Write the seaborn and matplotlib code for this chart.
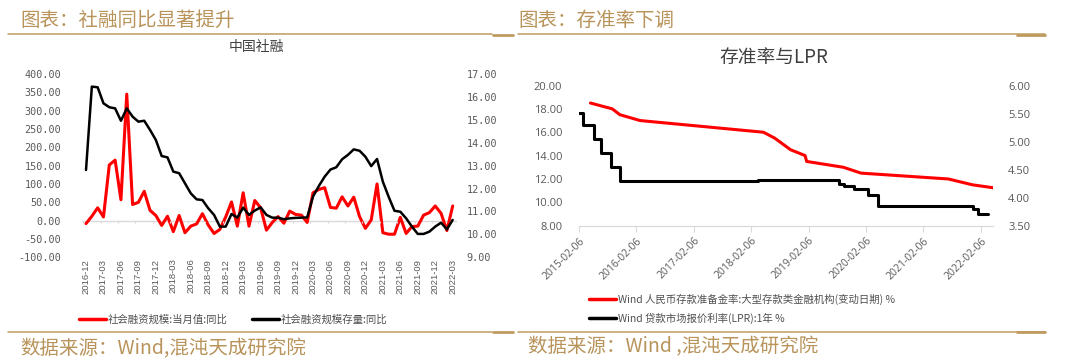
import numpy as np
import pandas as pd
import matplotlib
matplotlib.use("Agg")
import matplotlib.pyplot as plt
import matplotlib.dates as mdates
from matplotlib.lines import Line2D
from matplotlib.ticker import FormatStrFormatter
import seaborn as sns

# =========================
# data: 社融 (monthly, 2016-12 .. 2022-03)
# =========================
months = pd.period_range("2016-12", "2022-03", freq="M").strftime("%Y-%m").tolist()

# 社会融资规模:当月值:同比 (left axis, %)
tsf_flow_yoy = [-8, 12, 35, 10, 152, 165, 57, 345, 44, 50, 80, 28, 14, -13, 12, -30,
                14, -33, -15, -9, 19, -12, -35, -24, 10, 51, -15, 76, -15, 55, 35, -26,
                -5, 11, -7, 26, 17, 15, -5, 76, 85, 90, 36, 34, 65, 40, 64, 11,
                -21, 2, 100, -33, -37, -37, 9, -35, -16, -15, 15, 22, 40, 20, -27, 40]

# 社会融资规模存量:同比 (right axis, %)
tsf_stock_yoy = [12.81, 16.45, 16.42, 15.72, 15.55, 15.50, 14.96, 15.50, 15.14, 14.92,
                 14.96, 14.56, 14.12, 13.42, 13.36, 12.74, 12.67, 12.23, 11.79, 11.53,
                 11.50, 11.14, 10.85, 10.34, 10.34, 10.89, 10.73, 11.17, 10.85, 11.04,
                 11.18, 10.85, 10.73, 10.73, 10.66, 10.70, 10.72, 10.73, 10.74, 11.65,
                 12.11, 12.52, 12.83, 12.93, 13.28, 13.47, 13.71, 13.65, 13.39, 12.98,
                 13.29, 12.30, 11.64, 11.03, 10.99, 10.70, 10.34, 10.02, 10.02, 10.12,
                 10.34, 10.51, 10.22, 10.63]

# =========================
# data: 存准率与LPR
# =========================
rrr_dates = ["2015-04-20", "2015-09-06", "2015-10-24", "2016-03-01", "2018-04-25",
             "2018-07-05", "2018-10-15", "2019-01-15", "2019-01-25", "2019-09-16",
             "2020-01-06", "2021-07-15", "2021-12-15", "2022-04-25"]
rrr_values = [18.5, 18.0, 17.5, 17.0, 16.0, 15.5, 14.5, 14.0, 13.5, 13.0,
              12.5, 12.0, 11.5, 11.25]

lpr_dates = ["2015-02-06", "2015-03-01", "2015-05-11", "2015-06-28", "2015-08-26",
             "2015-10-24", "2018-03-20", "2019-08-20", "2019-09-20", "2019-11-20",
             "2020-02-20", "2020-04-20", "2021-12-20", "2022-01-20", "2022-03-21"]
lpr_values = [5.51, 5.29, 5.05, 4.79, 4.55, 4.30, 4.31, 4.25, 4.20, 4.15,
              4.05, 3.85, 3.80, 3.70, 3.70]

year_ticks = ["2015-02-06", "2016-02-06", "2017-02-06", "2018-02-06",
              "2019-02-06", "2020-02-06", "2021-02-06", "2022-02-06"]

legend_left = ["社会融资规模:当月值:同比", "社会融资规模存量:同比"]
legend_right = ["Wind 人民币存款准备金率:大型存款类金融机构(变动日期) %",
                "Wind 贷款市场报价利率(LPR):1年 %"]

# =========================
# style
# =========================
sns.set_style("white")
plt.rcParams["font.family"] = ["Noto Sans CJK SC", "DejaVu Sans"]

W, H = 1080, 364
GOLD = "#BF9B60"
GOLD_TXT = "#B8935A"
GRAY = "#595959"
LIGHT = "#D9D9D9"

fig = plt.figure(figsize=(W / 100, H / 100), dpi=100)


def box(x0, y0, x1, y1):
    return [x0 / W, 1 - y1 / H, (x1 - x0) / W, (y1 - y0) / H]


# =========================
# left chart
# =========================
ax1 = fig.add_axes(box(82, 74, 457, 257.3))
idx = np.arange(len(months))
sns.lineplot(x=idx, y=tsf_flow_yoy, ax=ax1, color="red", lw=2.2)
ax1.axhline(0, color=LIGHT, lw=1, zorder=0)
ax1.vlines(np.arange(-0.5, len(months), 3), -6, 0, color=LIGHT, lw=0.8)
ax1.set_xlim(-0.69, 63.74)
ax1.set_ylim(-100, 400)
ax1.set_yticks(np.arange(-100, 401, 50))
ax1.yaxis.set_major_formatter(FormatStrFormatter("%.2f"))
ax1.set_xticks(idx[::3])
ax1.set_xticklabels(months[::3], rotation=90, fontsize=6.8, color=GRAY,
                    family="Liberation Sans")
ax1.tick_params(axis="x", length=0, pad=1)
ax1.tick_params(axis="y", length=0, pad=15, labelsize=7.3, labelcolor=GRAY)
for lab in ax1.get_yticklabels():
    lab.set_family("DejaVu Sans Mono")
ax1.set_xlabel("")
ax1.set_ylabel("")

ax2 = ax1.twinx()
sns.lineplot(x=idx, y=tsf_stock_yoy, ax=ax2, color="black", lw=1.8)
ax2.set_ylim(9, 17)
ax2.set_yticks(np.arange(9, 17.01, 1))
ax2.yaxis.set_major_formatter(FormatStrFormatter("%.2f"))
ax2.tick_params(axis="y", length=0, pad=7, labelsize=7.3, labelcolor=GRAY)
for lab in ax2.get_yticklabels():
    lab.set_family("DejaVu Sans Mono")
ax2.set_ylabel("")
for a in (ax1, ax2):
    for s in a.spines.values():
        s.set_visible(False)

fig.text(256 / W, 1 - 47 / H, "中国社融", ha="center", va="center",
         fontsize=10, color="#404040")

h_left = [Line2D([], [], color="red", lw=2.5), Line2D([], [], color="black", lw=2.5)]
fig.legend(h_left, legend_left, ncol=2, loc="center left",
           bbox_to_anchor=(79 / W, 1 - 320 / H), frameon=False, fontsize=7.5,
           handlelength=2.6, handletextpad=0.2, columnspacing=2.3,
           borderpad=0, borderaxespad=0, labelcolor="#505050")

# =========================
# right chart
# =========================
rrr_df = pd.DataFrame({"date": pd.to_datetime(rrr_dates), "rrr": rrr_values})
lpr_df = pd.DataFrame({"date": pd.to_datetime(lpr_dates), "lpr": lpr_values})

ax3 = fig.add_axes(box(579, 85.5, 993, 225.7))
sns.lineplot(data=rrr_df, x="date", y="rrr", ax=ax3, color="red", lw=2.2)
ax3.set_xlim(pd.Timestamp("2015-02-06"), pd.Timestamp("2022-04-25"))
ax3.set_ylim(8, 20)
ax3.set_yticks(np.arange(8, 20.01, 2))
ax3.yaxis.set_major_formatter(FormatStrFormatter("%.2f"))
ax3.set_xticks(pd.to_datetime(year_ticks))
ax3.xaxis.set_major_formatter(mdates.DateFormatter("%Y-%m-%d"))
for lab in ax3.get_xticklabels():
    lab.set_rotation(45)
    lab.set_ha("right")
    lab.set_va("top")
    lab.set_rotation_mode("anchor")
    lab.set_family("Open Sans")
ax3.tick_params(axis="x", length=4, width=0.8, color=LIGHT, direction="out",
                labelsize=7.5, labelcolor=GRAY, pad=3, bottom=True)
ax3.tick_params(axis="y", length=0, pad=12, labelsize=8, labelcolor=GRAY)
for lab in ax3.get_yticklabels():
    lab.set_family("Open Sans")
ax3.set_xlabel("")
ax3.set_ylabel("")

ax4 = ax3.twinx()
sns.lineplot(data=lpr_df, x="date", y="lpr", ax=ax4, color="black", lw=2.2,
             drawstyle="steps-post")
ax4.set_ylim(3.5, 6.0)
ax4.set_yticks(np.arange(3.5, 6.01, 0.5))
ax4.yaxis.set_major_formatter(FormatStrFormatter("%.2f"))
ax4.tick_params(axis="y", length=0, pad=11, labelsize=8, labelcolor=GRAY)
for lab in ax4.get_yticklabels():
    lab.set_family("Open Sans")
ax4.set_ylabel("")
for a in (ax3, ax4):
    for name, s in a.spines.items():
        s.set_visible(name == "bottom")
        s.set_color(LIGHT)

fig.text(774 / W, 1 - 57 / H, "存准率与LPR", ha="center", va="center",
         fontsize=13.5, color="#404040")

h_right = [Line2D([], [], color="red", lw=2.5), Line2D([], [], color="black", lw=2.5)]
fig.legend(h_right, legend_right, ncol=1, loc="center left",
           bbox_to_anchor=(589 / W, 1 - 309 / H), frameon=False, fontsize=7.5,
           handlelength=2.6, handletextpad=0.2, labelspacing=0.75,
           borderpad=0, borderaxespad=0, labelcolor="#505050")

# =========================
# headers / footers
# =========================
def hline(x0, x1, y, lw):
    fig.add_artist(Line2D([x0 / W, x1 / W], [1 - y / H, 1 - y / H],
                          color=GOLD, lw=lw))


fig.text(20 / W, 1 - 20 / H, "图表：社融同比显著提升", ha="left", va="center",
         fontsize=14, color=GOLD_TXT)
fig.text(518 / W, 1 - 20 / H, "图表：存准率下调", ha="left", va="center",
         fontsize=14, color=GOLD_TXT)
hline(8, 492, 34, 1.1)
hline(493, 513, 34.7, 2)
hline(518, 1045, 34, 1.1)
hline(1017, 1045, 35, 2)

hline(8, 492, 331.7, 1.1)
hline(493, 513, 332.3, 2)
hline(518, 1045, 331.7, 1.1)
hline(1017, 1045, 332.3, 2)
fig.text(20 / W, 1 - 349 / H, "数据来源：Wind,混沌天成研究院", ha="left", va="center",
         fontsize=14, color=GOLD_TXT)
fig.text(528 / W, 1 - 347 / H, "数据来源：Wind ,混沌天成研究院", ha="left", va="center",
         fontsize=14, color=GOLD_TXT)

fig.savefig("out.png", dpi=100)
